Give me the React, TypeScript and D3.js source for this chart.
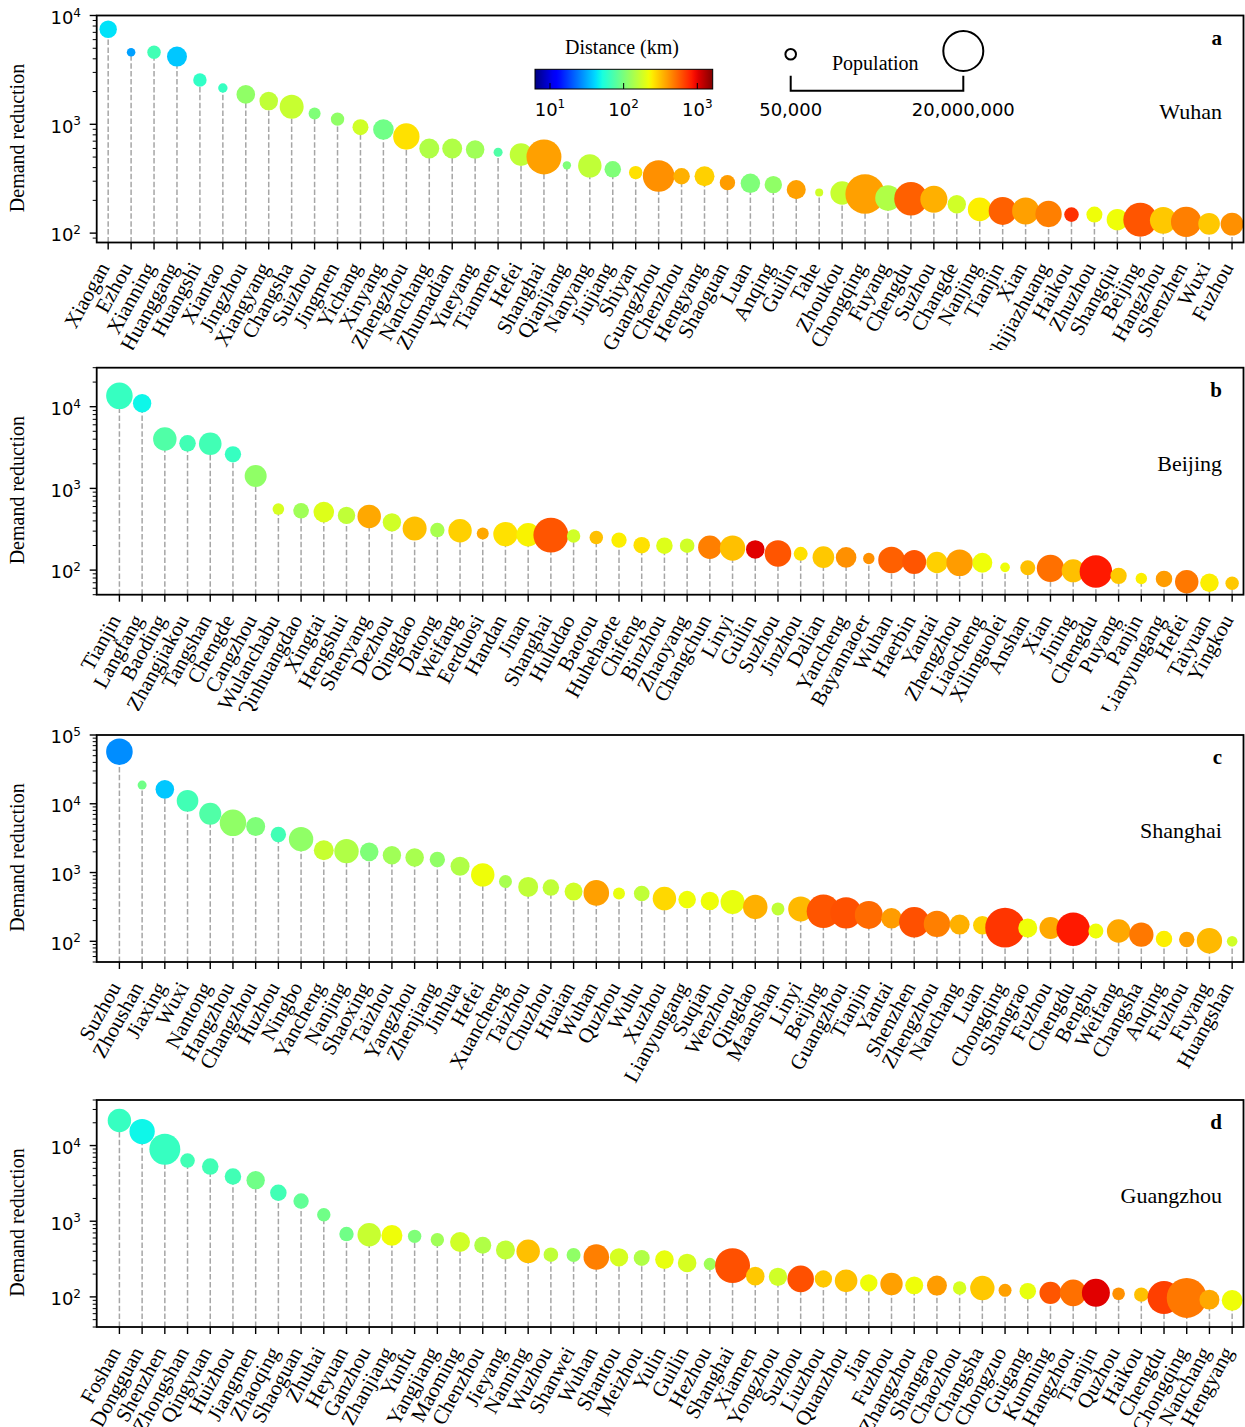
import React from "react";
import * as d3 from "d3";

// ---- a: Wuhan ----
const wuhanCities = ["Xiaogan", "Ezhou", "Xianning", "Huanggang", "Huangshi", "Xiantao", "Jingzhou", "Xiangyang", "Changsha", "Suizhou", "Jingmen", "Yichang", "Xinyang", "Zhengzhou", "Nanchang", "Zhumadian", "Yueyang", "Tianmen", "Hefei", "Shanghai", "Qianjiang", "Nanyang", "Jiujiang", "Shiyan", "Guangzhou", "Chenzhou", "Hengyang", "Shaoguan", "Luan", "Anqing", "Guilin", "Tahe", "Zhoukou", "Chongqing", "Fuyang", "Chengdu", "Suzhou", "Changde", "Nanjing", "Tianjin", "Xian", "Shijiazhuang", "Haikou", "Zhuzhou", "Shangqiu", "Beijing", "Hangzhou", "Shenzhen", "Wuxi", "Fuzhou"];
const wuhanDemand = [7480, 4590, 4600, 4190, 2550, 2155, 1884, 1635, 1449, 1259, 1116, 942, 896, 773, 599, 599, 586, 554, 527, 501, 420, 415, 386, 360, 335, 333, 333, 291, 287, 279, 251, 236, 234, 229, 210, 207, 205, 184, 165, 160, 160, 150, 148, 148, 133, 133, 131, 127, 122, 121];
const wuhanDistance = [43, 30, 68, 37, 61, 63, 116, 160, 168, 103, 116, 178, 93, 262, 144, 144, 129, 75, 160, 384, 103, 160, 103, 262, 420, 349, 289, 393, 103, 116, 384, 178, 168, 384, 144, 557, 349, 178, 240, 557, 384, 464, 739, 220, 220, 595, 302, 464, 302, 420];
const wuhanPopulation = [0.47, 0.019, 0.15, 0.87, 0.145, 0.029, 0.63, 0.63, 2.0, 0.087, 0.145, 0.32, 1.0, 3.05, 0.87, 0.87, 0.63, 0.024, 1.52, 10.9, 0.017, 1.8, 0.37, 0.145, 6.9, 0.37, 0.87, 0.27, 0.77, 0.47, 0.7, 0.014, 1.8, 18.6, 2.65, 8.9, 3.4, 0.6, 1.9, 4.0, 3.4, 3.05, 0.21, 0.32, 1.18, 9.6, 3.15, 5.8, 1.25, 1.6];

// ---- b: Beijing ----
const beijingCities = ["Tianjin", "Langfang", "Baoding", "Zhangjiakou", "Tangshan", "Chengde", "Cangzhou", "Wulanchabu", "Qinhuangdao", "Xingtai", "Hengshui", "Shenyang", "Dezhou", "Qingdao", "Datong", "Weifang", "Eerduosi", "Handan", "Jinan", "Shanghai", "Huludao", "Baotou", "Huhehaote", "Chifeng", "Binzhou", "Zhaoyang", "Changchun", "Linyi", "Guilin", "Suzhou", "Jinzhou", "Dalian", "Yancheng", "Bayannaoer", "Wuhan", "Haerbin", "Yantai", "Zhengzhou", "Liaocheng", "Xilinguolei", "Anshan", "Xian", "Jining", "Chengdu", "Puyang", "Panjin", "Lianyungang", "Hefei", "Taiyuan", "Yingkou"];
const beijingDemand = [13600, 11000, 4020, 3560, 3525, 2610, 1416, 559, 533, 513, 467, 454, 384, 324, 309, 303, 281, 276, 271, 268, 261, 251, 233, 202, 199, 199, 190, 186, 179, 160, 158, 144, 143, 139, 133, 126, 124, 123, 123, 108, 107, 105, 98, 96, 85, 79, 78, 72, 70, 69];
const beijingDistance = [63, 48, 75, 68, 68, 63, 116, 185, 129, 195, 160, 365, 178, 318, 136, 289, 365, 262, 235, 595, 178, 318, 240, 262, 195, 178, 464, 318, 1014, 595, 262, 302, 420, 420, 557, 595, 289, 393, 220, 220, 318, 507, 318, 845, 302, 240, 393, 485, 240, 302];
const beijingPopulation = [3.15, 0.6, 1.8, 0.37, 1.52, 0.35, 1.35, 0.075, 0.29, 1.0, 0.47, 1.8, 0.6, 2.0, 0.2, 1.8, 0.087, 2.15, 1.8, 10.9, 0.145, 0.15, 0.27, 0.37, 0.37, 0.21, 1.8, 2.55, 0.63, 3.15, 0.175, 1.25, 1.0, 0.07, 3.15, 2.0, 1.18, 3.15, 0.87, 0.033, 0.24, 3.6, 1.65, 7.9, 0.35, 0.07, 0.37, 1.8, 0.63, 0.145];

// ---- c: Shanghai ----
const shanghaiCities = ["Suzhou", "Zhoushan", "Jiaxing", "Wuxi", "Nantong", "Hangzhou", "Changzhou", "Huzhou", "Ningbo", "Yancheng", "Nanjing", "Shaoxing", "Taizhou", "Yangzhou", "Zhenjiang", "Jinhua", "Hefei", "Xuancheng", "Taizhou", "Chuzhou", "Huaian", "Wuhan", "Quzhou", "Wuhu", "Xuzhou", "Lianyungang", "Suqian", "Wenzhou", "Qingdao", "Maanshan", "Linyi", "Beijing", "Guangzhou", "Tianjin", "Yantai", "Shenzhen", "Zhengzhou", "Nanchang", "Luan", "Chongqing", "Shangrao", "Fuzhou", "Chengdu", "Bengbu", "Weifang", "Changsha", "Anqing", "Fuzhou", "Fuyang", "Huangshan"];
const shanghaiDemand = [57200, 18700, 16200, 11060, 7150, 5290, 4675, 3575, 3055, 2113, 2046, 2000, 1787, 1652, 1545, 1236, 925, 740, 618, 605, 529, 506, 495, 495, 418, 404, 387, 374, 316, 296, 296, 273, 259, 242, 216, 189, 179, 175, 171, 158, 156, 156, 150, 141, 141, 125, 108, 106, 102, 100];
const shanghaiDistance = [27, 93, 37, 68, 75, 116, 103, 68, 116, 168, 144, 103, 129, 136, 116, 144, 220, 136, 160, 160, 178, 384, 210, 160, 275, 220, 220, 210, 349, 160, 330, 595, 612, 527, 393, 612, 464, 349, 289, 720, 220, 365, 845, 220, 365, 485, 240, 384, 330, 178];
const shanghaiPopulation = [3.15, 0.024, 0.63, 1.25, 1.35, 3.15, 0.7, 0.27, 2.15, 0.87, 2.15, 0.63, 0.6, 0.63, 0.27, 0.7, 1.8, 0.125, 0.87, 0.37, 0.54, 2.65, 0.087, 0.29, 1.8, 0.49, 0.6, 2.0, 2.2, 0.125, 2.4, 8.9, 6.6, 4.0, 1.0, 5.8, 3.05, 0.87, 0.63, 19.2, 0.7, 1.35, 8.9, 0.24, 1.8, 2.15, 0.37, 0.27, 2.55, 0.05];

// ---- d: Guangzhou ----
const guangzhouCities = ["Foshan", "Dongguan", "Shenzhen", "Zhongshan", "Qingyuan", "Huizhou", "Jiangmen", "Zhaoqing", "Shaoguan", "Zhuhai", "Heyuan", "Ganzhou", "Zhanjiang", "Yunfu", "Yangjiang", "Maoming", "Chenzhou", "Jieyang", "Nanning", "Wuzhou", "Shanwei", "Wuhan", "Shantou", "Meizhou", "Yulin", "Guilin", "Hezhou", "Shanghai", "Xiamen", "Yongzhou", "Suzhou", "Liuzhou", "Quanzhou", "Jian", "Fuzhou", "Zhangzhou", "Shangrao", "Chaozhou", "Changsha", "Chongzuo", "Guigang", "Kunming", "Hangzhou", "Tianjin", "Quzhou", "Haikou", "Chengdu", "Chongqing", "Nanchang", "Hengyang"];
const guangzhouDemand = [21400, 15300, 8950, 6340, 5280, 3900, 3490, 2377, 1846, 1218, 677, 664, 650, 631, 570, 531, 480, 417, 400, 361, 358, 337, 333, 327, 311, 281, 272, 259, 188, 184, 173, 173, 163, 153, 148, 142, 141, 131, 131, 122, 119, 113, 113, 113, 110, 107, 98, 97, 92, 90];
const guangzhouDistance = [63, 48, 63, 68, 68, 68, 93, 68, 84, 93, 93, 168, 220, 103, 129, 178, 144, 160, 318, 160, 116, 464, 185, 144, 210, 185, 129, 612, 302, 178, 612, 302, 318, 220, 384, 220, 393, 185, 302, 384, 210, 595, 507, 1014, 420, 318, 676, 485, 365, 220];
const guangzhouPopulation = [1.8, 2.55, 6.3, 0.21, 0.37, 0.37, 0.6, 0.37, 0.27, 0.145, 0.2, 1.8, 1.09, 0.145, 0.145, 0.87, 0.42, 0.7, 1.8, 0.21, 0.175, 2.65, 0.6, 0.32, 0.63, 0.63, 0.1, 10.9, 0.63, 0.6, 3.15, 0.47, 1.52, 0.47, 1.45, 0.54, 0.87, 0.145, 2.15, 0.125, 0.37, 1.35, 3.15, 4.0, 0.11, 0.2, 8.4, 20, 0.87, 1.05];

const legendPopulation = [0.05, 20]; // millions
const legendPopulationLabels = ["50,000", "20,000,000"];
const colorbarTicks = [10, 100, 1000];

const W = 1245;
const H = 1427;
const LEFT = 96.7;
const RIGHT = 1243.5;
const PANEL_H = 227;
const SERIF = "'Times New Roman', 'Liberation Serif', serif";
const SANS = "'DejaVu Sans', sans-serif";

// each panel was a separate image in the figure, so the long labels get cut at its lower edge
const panels = [
  { letter: "a", title: "Wuhan", cities: wuhanCities, demand: wuhanDemand, distance: wuhanDistance, population: wuhanPopulation, top: 15.5, yDomain: [82, 10000], xDomain: [-0.5, 49.5], cut: 350 },
  { letter: "b", title: "Beijing", cities: beijingCities, demand: beijingDemand, distance: beijingDistance, population: beijingPopulation, top: 367.7, yDomain: [50, 30000], xDomain: [-1, 49.5], cut: 711 },
  { letter: "c", title: "Shanghai", cities: shanghaiCities, demand: shanghaiDemand, distance: shanghaiDistance, population: shanghaiPopulation, top: 735, yDomain: [50, 100000], xDomain: [-1, 49.5], cut: 1090 },
  { letter: "d", title: "Guangzhou", cities: guangzhouCities, demand: guangzhouDemand, distance: guangzhouDistance, population: guangzhouPopulation, top: 1100, yDomain: [40, 40000], xDomain: [-1, 49.5], cut: 1427 },
];

// matplotlib "jet"
const jetR = d3.scaleLinear().domain([0, 0.35, 0.66, 0.89, 1]).range([0, 0, 1, 1, 0.5]).clamp(true);
const jetG = d3.scaleLinear().domain([0, 0.125, 0.375, 0.64, 0.91, 1]).range([0, 0, 1, 1, 0, 0]).clamp(true);
const jetB = d3.scaleLinear().domain([0, 0.11, 0.34, 0.65, 1]).range([0.5, 1, 1, 0, 0]).clamp(true);
const jet = (t: number) => d3.rgb(jetR(t) * 255, jetG(t) * 255, jetB(t) * 255).formatHex();

const distT = d3.scaleLog().domain([6.26, 1618]).range([0, 1]).clamp(true);
const colorOf = (d: number) => jet(distT(d));
const radius = d3.scalePow().exponent(0.2216).domain([0, 20]).range([0, 20]);

const CB = { x0: 535, x1: 712.7, y0: 69.3, y1: 89 };
const cbX = d3.scaleLog().domain([6.26, 1618]).range([CB.x0, CB.x1]);

function Panel({ p }: { p: (typeof panels)[number] }) {
  const bottom = p.top + PANEL_H;
  const y = d3.scaleLog().domain(p.yDomain).range([bottom, p.top]);
  const x = d3.scaleLinear().domain(p.xDomain).range([LEFT, RIGHT]);
  const lo = Math.floor(Math.log10(p.yDomain[0]));
  const hi = Math.ceil(Math.log10(p.yDomain[1]));
  const majors: number[] = [];
  const minors: number[] = [];
  for (let k = lo; k <= hi; k++) {
    for (let m = 1; m <= 9; m++) {
      const v = m * Math.pow(10, k);
      if (v < p.yDomain[0] * 0.999 || v > p.yDomain[1] * 1.001) continue;
      if (m === 1) majors.push(k);
      else minors.push(v);
    }
  }
  const clipId = "cut-" + p.letter;
  return (
    <g>
      <clipPath id={clipId}>
        <rect x={0} y={bottom} width={W} height={p.cut - bottom} />
      </clipPath>
      {/* stems */}
      {p.demand.map((v, i) => (
        <line key={"s" + i} x1={x(i)} x2={x(i)} y1={bottom} y2={y(v)} stroke="#a6a6a6" strokeWidth={1.5} strokeDasharray="5.5,2.4" />
      ))}
      {/* bubbles */}
      {p.demand.map((v, i) => (
        <circle key={"c" + i} cx={x(i)} cy={y(v)} r={radius(p.population[i])} fill={colorOf(p.distance[i])} />
      ))}
      <rect x={LEFT} y={p.top} width={RIGHT - LEFT} height={PANEL_H} fill="none" stroke="#000" strokeWidth={1.8} />
      {/* y axis */}
      {majors.map((k) => (
        <g key={"M" + k}>
          <line x1={LEFT - 7} x2={LEFT} y1={y(Math.pow(10, k))} y2={y(Math.pow(10, k))} stroke="#000" strokeWidth={1.4} />
          <text x={81} y={y(Math.pow(10, k)) + 8.3} textAnchor="end" fontFamily={SANS} fontSize={18}>
            10<tspan fontSize={12} dy={-7.3}>{k}</tspan>
          </text>
        </g>
      ))}
      {minors.map((v, i) => (
        <line key={"m" + i} x1={LEFT - 4} x2={LEFT} y1={y(v)} y2={y(v)} stroke="#000" strokeWidth={1} />
      ))}
      <text transform={`translate(17,${p.top + PANEL_H / 2 + 9}) rotate(-90)`} textAnchor="middle" dominantBaseline="central" fontFamily={SERIF} fontSize={20}>
        Demand reduction
      </text>
      {/* x axis */}
      {p.cities.map((c, i) => (
        <line key={"t" + i} x1={x(i)} x2={x(i)} y1={bottom} y2={bottom + 7} stroke="#000" strokeWidth={1.4} />
      ))}
      <g clipPath={`url(#${clipId})`}>
        {p.cities.map((c, i) => (
          <text key={"x" + i} transform={`translate(${x(i) + 2},${bottom + 25}) rotate(-61)`} textAnchor="end" fontFamily={SERIF} fontSize={21}>
            {c}
          </text>
        ))}
      </g>
      <text x={1222} y={p.top + 29} textAnchor="end" fontFamily={SERIF} fontWeight="bold" fontSize={21}>
        {p.letter}
      </text>
      <text x={1222} y={p.top + 103} textAnchor="end" fontFamily={SERIF} fontSize={22}>
        {p.title}
      </text>
    </g>
  );
}

export default function App() {
  const stops = d3.range(0, 1.0001, 0.02);
  const legendY = [54.3, 51];
  const legendX = [790.7, 963.3];
  return (
    <svg width={W} height={H} style={{ position: "absolute", left: 0, top: 0, background: "#fff" }}>
      <defs>
        <linearGradient id="jetGrad" x1="0" x2="1" y1="0" y2="0">
          {stops.map((t) => (
            <stop key={t} offset={t} stopColor={jet(t)} />
          ))}
        </linearGradient>
      </defs>
      <rect width={W} height={H} fill="#fff" />
      {panels.map((p) => (
        <Panel key={p.letter} p={p} />
      ))}
      {/* colour bar */}
      <text x={622} y={54} textAnchor="middle" fontFamily={SERIF} fontSize={20}>
        Distance (km)
      </text>
      <rect x={CB.x0} y={CB.y0} width={CB.x1 - CB.x0} height={CB.y1 - CB.y0} fill="url(#jetGrad)" stroke="#000" strokeWidth={1} />
      {colorbarTicks.map((v) => (
        <g key={v}>
          <line x1={cbX(v)} x2={cbX(v)} y1={CB.y1} y2={CB.y1 - 6} stroke="#000" strokeWidth={1} />
          <text x={cbX(v)} y={115.7} textAnchor="middle" fontFamily={SANS} fontSize={18}>
            10<tspan fontSize={12} dy={-7.3}>{Math.round(Math.log10(v))}</tspan>
          </text>
        </g>
      ))}
      {/* population legend */}
      {legendPopulation.map((v, i) => (
        <g key={"lp" + i}>
          <circle cx={legendX[i]} cy={legendY[i]} r={radius(v)} fill="none" stroke="#000" strokeWidth={2} />
          <text x={legendX[i]} y={116} textAnchor="middle" fontFamily={SANS} fontSize={18}>
            {legendPopulationLabels[i]}
          </text>
        </g>
      ))}
      <path d={`M${legendX[0]},75.7V90.7H${legendX[1]}V75.7`} fill="none" stroke="#000" strokeWidth={2} />
      <text x={875.3} y={69.5} textAnchor="middle" fontFamily={SERIF} fontSize={20}>
        Population
      </text>
    </svg>
  );
}
